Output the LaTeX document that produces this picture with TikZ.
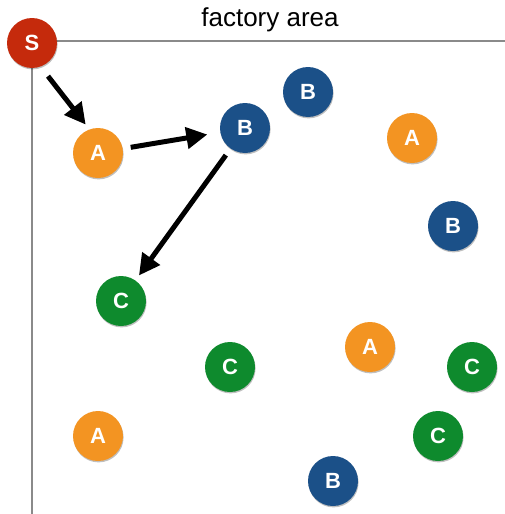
\documentclass[tikz,border=0pt]{standalone}
\usepackage{fontspec}
\setmainfont{Liberation Sans}
\usetikzlibrary{arrows.meta,shadows}
\definecolor{cred}{HTML}{C52A0C}
\definecolor{corange}{HTML}{F39422}
\definecolor{cblue}{HTML}{1B5088}
\definecolor{cgreen}{HTML}{0E8A2D}
\definecolor{axisgray}{HTML}{8A8A8A}
\tikzset{
  dot/.style={circle, minimum size=50pt, inner sep=0pt, text=white,
    font=\fontsize{22}{22}\selectfont\bfseries,
    drop shadow={shadow xshift=0.6pt, shadow yshift=-1.4pt, opacity=0.25, fill=black}},
  dotS/.style={dot, fill=cred},
  dotA/.style={dot, fill=corange},
  dotB/.style={dot, fill=cblue},
  dotC/.style={dot, fill=cgreen},
  axis/.style={draw=axisgray, line width=2pt},
  flow/.style={line width=5pt, -{Triangle[length=21pt,width=21pt]}},
}
\begin{document}
\begin{tikzpicture}[x=1pt,y=-1pt]
\useasboundingbox (0,0) rectangle (505,514);
\coordinate (corner) at (32,41);
\coordinate (xend) at (505,41);
\coordinate (yend) at (32,514);
\draw[axis] (xend) -- (corner) -- (yend);
\node[anchor=base, font=\fontsize{26}{26}\selectfont] (title) at (270,27) {factory area};
\node[dotS] (S) at (32,43) {S};
\node[dotA] (A1) at (98,153) {A};
\node[dotB] (B1) at (245,128) {B};
\node[dotB] (B2) at (308,92) {B};
\node[dotA] (A2) at (412,138) {A};
\node[dotB] (B3) at (453,226) {B};
\node[dotC] (C1) at (121,301) {C};
\node[dotC] (C2) at (230,367) {C};
\node[dotA] (A3) at (370,347) {A};
\node[dotC] (C3) at (472,367) {C};
\node[dotA] (A4) at (98,436) {A};
\node[dotC] (C4) at (438,436) {C};
\node[dotB] (B4) at (333,481) {B};
\draw[flow, shorten <=12pt, shorten >=6pt] (S.-70) -- (A1.110);
\draw[flow, shorten <=8pt, shorten >=13pt] (A1.10) -- (B1.190);
\draw[flow, shorten <=8pt, shorten >=6pt] (B1.235) -- (C1.55);
\end{tikzpicture}
\end{document}
